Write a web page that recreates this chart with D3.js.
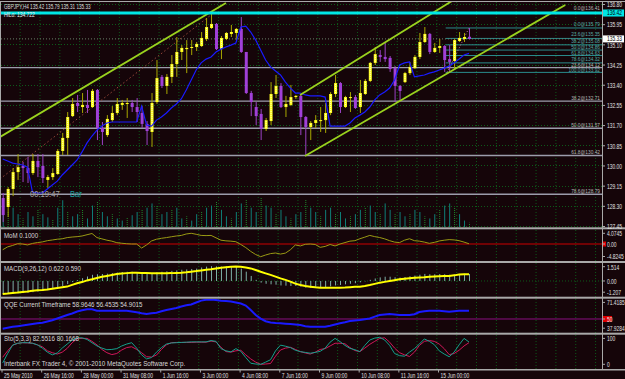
<!DOCTYPE html>
<html><head><meta charset="utf-8">
<script src="https://cdn.jsdelivr.net/npm/d3@7"></script>
<style>body{margin:0;background:#150509;overflow:hidden}svg text{font-family:"Liberation Sans",Arial,sans-serif;}</style>
</head><body>
<script>
// ---------------- DATA ----------------
const symbolTitle = "GBPJPY,H4 135.42 135.79 135.31 135.33";
const hiloTitle = "HiLo: 134.722";
const open  = [128.63,128.25,129.01,129.72,129.98,129.89,129.68,130.19,129.98,129.39,129.51,129.64,130.61,131.16,132.08,132.63,132.46,132.55,132.46,133.18,131.58,131.28,131.91,132.21,132.55,132.59,132.63,132.46,132.21,131.75,131.41,132.67,133.73,133.35,133.73,134.27,134.78,134.90,134.95,134.99,135.03,135.33,135.79,135.96,134.90,135.33,135.54,135.58,135.75,134.78,133.05,132.46,132.17,131.54,131.87,133.01,133.35,132.46,132.55,132.88,132.93,132.04,131.62,131.79,131.87,131.91,132.21,133.01,133.47,132.46,132.84,132.88,132.46,133.01,133.56,134.32,134.65,134.57,134.53,134.10,133.35,133.51,133.89,134.10,134.57,135.20,135.54,134.78,134.95,135.03,134.48,134.40,135.24,135.33,135.42];
const high  = [128.84,129.09,129.89,130.48,130.15,130.36,130.48,130.48,130.48,129.60,129.89,130.69,131.37,132.25,132.84,132.97,133.05,133.18,133.22,133.22,131.83,132.12,132.50,132.84,132.76,132.84,132.76,132.84,132.50,131.87,133.05,134.44,133.81,133.85,134.65,135.41,135.07,135.28,135.28,135.20,135.62,136.21,136.41,136.00,135.45,135.62,135.92,135.79,136.25,134.78,133.14,132.67,132.38,132.00,133.51,133.81,133.47,132.93,133.39,132.97,133.01,132.08,131.87,132.12,132.46,132.63,133.09,133.81,133.51,132.93,133.09,132.97,133.60,133.64,134.36,134.99,134.86,135.16,134.61,134.19,133.39,133.94,134.36,134.65,135.58,135.83,135.58,135.16,135.33,135.07,135.07,135.33,135.62,135.58,135.79];
const low   = [127.62,127.83,128.71,129.39,129.30,129.26,129.60,129.51,129.26,129.05,129.39,129.60,130.44,130.44,132.04,132.25,132.21,132.21,132.42,131.07,130.86,131.20,131.83,132.12,132.34,132.00,132.25,131.83,131.58,130.86,130.78,132.59,133.26,133.01,133.47,133.73,134.44,133.89,134.65,134.82,134.99,135.24,135.75,134.86,134.48,135.28,135.41,135.28,134.74,133.01,132.08,131.70,131.07,131.45,131.70,132.84,132.42,132.04,132.50,132.80,131.28,130.42,131.07,131.58,131.41,131.37,132.12,132.88,132.21,132.42,132.25,132.38,132.21,132.97,133.51,134.23,134.36,134.36,133.94,132.67,132.67,133.47,133.81,134.06,134.48,135.16,134.69,134.74,134.74,133.94,133.92,134.02,135.20,135.20,135.31];
const close = [127.91,129.01,129.72,129.93,129.89,129.68,130.19,129.93,129.47,129.51,129.68,130.61,131.16,132.04,132.59,132.50,132.55,132.42,133.14,131.58,131.41,131.96,132.21,132.59,132.63,132.63,132.46,132.25,131.75,131.45,132.63,133.68,133.35,133.73,134.27,134.78,134.95,134.95,134.99,135.12,135.37,135.83,135.96,134.90,135.37,135.58,135.62,135.75,134.78,133.05,132.67,132.08,131.54,131.91,133.01,133.35,132.46,132.59,132.88,132.93,132.04,131.62,131.79,131.91,131.91,132.21,133.01,133.47,132.46,132.88,132.88,132.42,133.05,133.56,134.32,134.69,134.57,134.48,134.06,133.35,133.14,133.89,134.15,134.57,135.20,135.54,134.78,134.95,135.03,134.44,134.36,135.28,135.37,135.41,135.33];
const hilo  = [130.27,130.19,130.10,130.06,130.02,129.93,128.88,128.84,128.84,129.01,129.18,129.34,129.60,129.81,130.02,130.23,130.57,130.95,131.24,131.49,131.66,131.79,131.83,131.83,131.83,131.83,131.83,131.83,132.50,131.70,131.66,131.91,132.04,132.21,132.42,132.59,132.80,133.18,133.60,134.02,134.32,134.48,134.57,134.78,134.90,134.99,135.07,135.16,135.83,135.87,135.62,135.28,134.86,134.44,134.15,133.98,133.81,133.51,133.26,133.05,133.05,132.97,132.93,132.93,132.93,132.88,131.66,131.66,131.66,131.66,131.79,132.00,132.12,132.25,132.46,132.76,132.97,133.09,133.26,133.60,134.23,134.32,134.36,133.73,133.77,133.81,133.89,133.94,134.02,134.10,134.19,134.32,134.48,134.65,134.72];
const volume = [22,15,18,12,8,14,10,16,12,9,7,18,25,14,10,12,16,8,20,24,14,10,12,8,6,9,11,14,16,18,22,20,12,14,16,18,8,10,6,12,14,18,20,24,16,10,8,14,22,26,18,14,28,20,18,12,16,10,8,12,14,26,18,14,10,16,18,12,14,8,10,12,16,18,20,14,12,22,16,12,14,10,12,16,14,10,8,12,16,20,22,18,12,6,4];
const mom = [-2.18,-1.09,-0.55,0.11,0,-0.36,0.22,0.55,0.8,1.27,1.53,1.82,2.0,2.44,2.65,2.8,3.05,3.53,4.0,2.44,1.96,1.45,1.09,0.51,0.29,0.11,0,0,-1.53,-0.36,1.16,1.82,2.18,2.44,2.76,3.05,3.27,3.82,4.07,3.7,3.27,3.2,3.27,2.36,1.45,1.2,1.09,0.87,-0.18,-1.35,-2.8,-4.0,-4.82,-4.18,-3.64,-3.42,-3.82,-3.45,-2.18,-0.36,-0.73,-0.11,0,-0.18,-1.27,-0.91,-0.18,-0.73,0,0.55,1.09,1.27,2.0,2.62,3.27,2.8,2.47,1.96,1.27,0.73,0.55,1.45,2.0,1.27,1.09,0.73,0.25,0.62,1.16,1.45,1.67,1.56,1.27,0.73,0.10];
const macdMain = [-1.16,-1.15,-1.12,-1.1,-1.08,-1.05,-1.0,-0.95,-0.9,-0.82,-0.72,-0.6,-0.45,-0.28,-0.1,0.08,0.25,0.4,0.55,0.6,0.62,0.65,0.7,0.75,0.8,0.82,0.82,0.8,0.72,0.65,0.68,0.78,0.82,0.86,0.9,0.95,1.0,1.03,1.07,1.1,1.2,1.28,1.32,1.3,1.28,1.3,1.3,1.27,1.1,0.83,0.45,0.1,-0.15,-0.25,-0.3,-0.33,-0.4,-0.42,-0.45,-0.45,-0.5,-0.6,-0.62,-0.6,-0.58,-0.55,-0.48,-0.4,-0.36,-0.3,-0.25,-0.2,-0.12,-0.03,0.1,0.22,0.32,0.38,0.38,0.33,0.3,0.35,0.42,0.48,0.56,0.63,0.6,0.6,0.62,0.6,0.56,0.6,0.63,0.64,0.622];
const macdSignal = [-1.16,-1.12,-1.07,-1.03,-0.98,-0.94,-0.88,-0.83,-0.8,-0.76,-0.7,-0.63,-0.56,-0.5,-0.35,-0.2,-0.1,0.05,0.15,0.27,0.37,0.45,0.53,0.62,0.67,0.7,0.73,0.73,0.71,0.7,0.69,0.69,0.69,0.69,0.7,0.72,0.74,0.78,0.83,0.88,0.94,1.0,1.05,1.12,1.17,1.22,1.26,1.28,1.27,1.2,1.12,0.98,0.82,0.68,0.54,0.39,0.23,0.1,-0.06,-0.24,-0.36,-0.45,-0.51,-0.56,-0.6,-0.6,-0.6,-0.6,-0.6,-0.58,-0.55,-0.52,-0.51,-0.44,-0.36,-0.26,-0.15,-0.08,0,0.07,0.15,0.2,0.24,0.28,0.31,0.34,0.38,0.4,0.42,0.44,0.45,0.5,0.57,0.59,0.59];
const qqe = [39.5,40.5,41.6,42.3,43.0,43.8,44.6,45.5,46.0,47.3,48.7,50.5,52.4,54.3,55.9,58.1,59.4,60.4,60.4,58.9,58.9,58.9,58.9,58.9,58.9,58.9,58.1,57.2,56.2,55.4,56.1,56.8,58.3,59.7,60.8,61.8,63.4,64.7,65.6,67.7,69.8,70.6,71.0,70.4,69.7,69.4,68.8,67.7,66.7,64.5,59.7,54.3,50.5,47.6,46.2,45.7,45.4,45.0,44.6,44.1,43.5,42.2,41.7,41.7,41.7,41.7,42.8,44.1,45.4,46.5,47.8,48.3,48.9,49.8,50.6,52.5,54.3,54.8,55.4,54.8,54.3,54.3,54.3,55.2,57.5,58.4,58.8,58.9,58.9,58.4,57.8,58.4,58.9,58.9,58.96];
const stoMain = [5,40,71,78,80,80,78,72,60,45,35,42,60,75,90,98,98,92,80,68,60,54,55,58,68,75,80,60,35,20,25,45,62,75,79,80,81,82,83,83,83,83,88,85,58,50,46,58,48,25,4,1,0,8,17,50,71,67,62,52,47,44,41,44,48,60,82,96,84,70,59,54,47,70,90,97,100,90,70,40,32,30,45,58,75,94,85,73,50,38,28,45,72,96,82.55];
const stoSignal = [26,50,71,77,80,79,78,72,65,50,43,38,45,59,80,95,96,96,85,72,55,43,36,40,53,62,65,55,43,28,27,34,55,72,80,81,81,81,81,82,82,82,86,83,63,47,45,50,52,35,20,8,0,1,3,30,53,60,63,55,47,42,38,45,55,58,68,78,78,76,62,51,47,60,74,85,96,98,82,60,43,35,29,45,70,85,88,85,75,58,36,40,52,68,80.17];
const priceTicks = [136.80,135.95,135.10,134.25,133.40,132.55,131.70,130.85,130.00,129.15,128.30,127.45];
const timeTickBars = [0,8,16,24,32,40,48,56,64,72,80,88];
const timeLabels = ["25 May 2010","26 May 16:00","28 May 00:00","31 May 08:00","1 Jun 16:00","3 Jun 00:00","4 Jun 08:00","7 Jun 16:00","9 Jun 00:00","10 Jun 08:00","11 Jun 16:00","15 Jun 00:00"];
const bigFibLevels = ["0.0","23.6","38.2","50.0","61.8","78.6"];
const bigFibPrices = [136.41,134.12,132.71,131.57,130.42,128.79];
const smallFibLevels = ["0.0","23.6","38.2","50.0","61.8","78.6","100.0"];
const smallFibPrices = [135.79,135.35,135.08,134.86,134.63,134.32,133.92];
const smallFibStartBar = 89.3;
const cyanLevel = 136.42;
// trend lines: [bar1, price1, bar2, price2]
const greenLines = [[-0.54,131.20,45.0,136.84],[59.94,132.97,90.9,136.97],[60.94,130.40,113.4,136.76]];
const dottedLine = [-0.54,129.43,42.0,136.34];
const fibDiag = [89.6,133.92,94,135.79];
const momLabels = ["4.0745","0.00","-4.8245"], momLabelVals=[4.0745,0,-4.8245];
const macdLabels = ["1.514","0.00","-1.207"], macdLabelVals=[1.514,0,-1.207];
const qqeLabels = ["71.4185","50","37.9284"], qqeLabelVals=[71.4185,50,37.9284];
const stoLabels = ["100","0"], stoLabelVals=[100,0];

// ---------------- CHART ----------------
const W=625,H=379,AX=602;
const BG='#150509';
const svg=d3.select('body').append('svg').attr('width',W).attr('height',H);
svg.append('rect').attr('width',W).attr('height',H).attr('fill',BG);
const defs=svg.append('defs');
function clip(id,y0,y1){defs.append('clipPath').attr('id',id).append('rect').attr('x',1).attr('y',y0).attr('width',AX-1).attr('height',y1-y0);}
const WIN={m:[2,227.3],c1:[229.5,261],c2:[263,296.7],c3:[298.7,332.7],c4:[334.7,369]};
clip('cm',...WIN.m);clip('c1',...WIN.c1);clip('c2',...WIN.c2);clip('c3',...WIN.c3);clip('c4',...WIN.c4);

const x=d3.scaleLinear().domain([0,94]).range([2.7,469]);
const y=d3.scaleLinear().domain([127.45,136.80]).range([226,4]);
const yMom=d3.scaleLinear().domain([-4.8245,4.0745]).range([256.7,233.3]);
const yMacd=d3.scaleLinear().domain([-1.207,1.514]).range([294.5,264]);
const yQqe=d3.scaleLinear().domain([37.9284,71.4185]).range([330.2,299.1]);
const ySto=d3.scaleLinear().domain([0,100]).range([364.3,337.3]);
const N=close.length, idx=d3.range(N);

function txt(g,px,py,s,fill,anchor,size,sx){
  return g.append('text').attr('transform',`translate(${px},${py}) scale(${sx||0.62},1)`)
   .attr('text-anchor',anchor||'start').attr('font-size',size||8).attr('fill',fill).text(s);
}
const gridC='#0d5a1a';
// vertical grid (every 4 bars)
const gv=svg.append('g');
for(let b=-0.24-4; x(b)<AX-2; b+=4){ if(x(b)<0) continue;
  gv.append('line').attr('x1',x(b)-1.2).attr('x2',x(b)-1.2).attr('y1',2).attr('y2',369)
    .attr('stroke',gridC).attr('stroke-dasharray','1,2');}
// horizontal grid main
svg.append('g').selectAll('line').data(priceTicks).join('line')
  .attr('x1',1).attr('x2',AX).attr('y1',d=>Math.round(y(d))+0.5).attr('y2',d=>Math.round(y(d))+0.5)
  .attr('stroke',gridC).attr('stroke-dasharray','1,2');

// ---- main window
const gm=svg.append('g').attr('clip-path','url(#cm)');
const vS=d3.scaleLinear().domain([0,d3.max(volume)]).range([227,197]);
gm.selectAll('.v').data(idx).join('line').attr('x1',i=>x(i)+0.5).attr('x2',i=>x(i)+0.5)
  .attr('y1',227).attr('y2',i=>vS(volume[i])).attr('stroke',(i)=>i%3==1?'#1e8a2c':'#0f7f78').attr('stroke-width',1)
  .attr('stroke-dasharray',i=>i%3==1?'1,1':null);
// big fib lines
gm.selectAll('.bf').data(bigFibPrices).join('line').attr('x1',1).attr('x2',AX)
  .attr('y1',d=>y(d)).attr('y2',d=>y(d)).attr('stroke','#9c9cab').attr('stroke-width',1.4);
// small fib lines
gm.selectAll('.sf').data(smallFibPrices).join('line').attr('x1',x(smallFibStartBar)).attr('x2',AX)
  .attr('y1',d=>y(d)).attr('y2',d=>y(d)).attr('stroke','#2a8c8c').attr('stroke-width',1);
// current price dotted line
gm.append('line').attr('x1',1).attr('x2',AX).attr('y1',y(close[N-1])).attr('y2',y(close[N-1]))
  .attr('stroke','#6a806a').attr('stroke-dasharray','1,2');
// dotted diagonal
gm.append('line').attr('x1',x(dottedLine[0])).attr('y1',y(dottedLine[1])).attr('x2',x(dottedLine[2])).attr('y2',y(dottedLine[3]))
  .attr('stroke','#9a4a3c').attr('stroke-dasharray','1.5,2.5');
gm.append('line').attr('x1',x(fibDiag[0])).attr('y1',y(fibDiag[1])).attr('x2',x(fibDiag[2])).attr('y2',y(fibDiag[3]))
  .attr('stroke','#c070a0').attr('stroke-dasharray','1,2');
// candles
const up=i=>close[i]>=open[i];
gm.selectAll('.w').data(idx).join('line').attr('x1',i=>x(i)+0.5).attr('x2',i=>x(i)+0.5)
  .attr('y1',i=>y(high[i])).attr('y2',i=>y(low[i])).attr('stroke',i=>up(i)?'#a8a800':'#9a44c4');
gm.selectAll('.b').data(idx).join('rect').attr('x',i=>x(i)-1).attr('width',3)
  .attr('y',i=>y(Math.max(open[i],close[i]))).attr('height',i=>Math.max(1,Math.abs(y(open[i])-y(close[i]))))
  .attr('fill',i=>up(i)?'#ffff20':'#a040d8');
gm.selectAll('.bc').data(idx.filter(i=>up(i)&&Math.abs(y(open[i])-y(close[i]))>3)).join('line')
  .attr('x1',i=>x(i)+0.5).attr('x2',i=>x(i)+0.5).attr('y1',i=>y(close[i])+1).attr('y2',i=>y(open[i])-1)
  .attr('stroke','#ffffd0').attr('stroke-dasharray','1,1');
// hilo line
gm.append('path').datum(idx).attr('d',d3.line().x(i=>x(i)).y(i=>y(hilo[i])))
  .attr('fill','none').attr('stroke','#1a1aff').attr('stroke-width',1.2);
// green channel lines
gm.selectAll('.gl').data(greenLines).join('line').attr('x1',d=>x(d[0])).attr('y1',d=>y(d[1]))
  .attr('x2',d=>x(d[2])).attr('y2',d=>y(d[3])).attr('stroke','#9ad21e').attr('stroke-width',1.8);
// cyan level
gm.append('line').attr('x1',1).attr('x2',AX).attr('y1',y(cyanLevel)).attr('y2',y(cyanLevel))
  .attr('stroke','#00e6e6').attr('stroke-width',3);
// fib labels (small font so the tightly packed levels stay readable)
const bigOff=[-3,-0.2,-1.5,-1.5,-1.5,-1.5];
const smallOff=[-2.2,-2.0,-1.6,-1.2,-1.0,-2.2,0];
bigFibPrices.forEach((p,k)=>txt(svg,AX-2,y(p)+bigOff[k],bigFibLevels[k]+'@'+p.toFixed(2),'#b4b4b4','end',6,0.8));
smallFibPrices.forEach((p,k)=>txt(svg,AX-2,y(p)+smallOff[k],smallFibLevels[k]+'@'+p.toFixed(2),'#5aa6a6','end',6,0.8));
// texts
txt(svg,4,8.5,symbolTitle,'#dcdcdc','start',8,0.58);
txt(svg,4,16.5,hiloTitle,'#f0f0f0','start',8,0.62);
txt(svg,30,196.5,'00:19:47','#a0a0a0','start',9,0.85);
txt(svg,70,196.5,'Bar','#19a0a0','start',9,0.85);

// ---- MoM
const g1=svg.append('g').attr('clip-path','url(#c1)');
g1.append('line').attr('x1',1).attr('x2',AX).attr('y1',yMom(0)).attr('y2',yMom(0)).attr('stroke','#cc0000');
g1.append('path').datum(idx).attr('d',d3.line().x(i=>x(i)).y(i=>yMom(mom[i])))
  .attr('fill','none').attr('stroke','#9a9a14').attr('stroke-width',1);
const SUBSX=0.77;
txt(svg,4,238,'MoM  0.1000','#d8d8d8','start',8,SUBSX);
// ---- MACD
const g2=svg.append('g').attr('clip-path','url(#c2)');
g2.append('line').attr('x1',1).attr('x2',AX).attr('y1',yMacd(0)).attr('y2',yMacd(0)).attr('stroke',gridC).attr('stroke-dasharray','1,2');
g2.selectAll('.h').data(idx).join('line').attr('x1',i=>x(i)+0.5).attr('x2',i=>x(i)+0.5)
  .attr('y1',yMacd(0)).attr('y2',i=>yMacd(macdMain[i])).attr('stroke','#7fb0a8');
g2.append('path').datum(idx).attr('d',d3.line().x(i=>x(i)).y(i=>yMacd(macdSignal[i])))
  .attr('fill','none').attr('stroke','#ffff00').attr('stroke-width',2);
txt(svg,4,271,'MACD(9,26,12) 0.622 0.590','#d8d8d8','start',8,SUBSX);
// ---- QQE
const g3=svg.append('g').attr('clip-path','url(#c3)');
g3.append('line').attr('x1',1).attr('x2',AX).attr('y1',yQqe(50)).attr('y2',yQqe(50)).attr('stroke','#8a1080');
g3.append('path').datum(idx).attr('d',d3.line().x(i=>x(i)).y(i=>yQqe(qqe[i])))
  .attr('fill','none').attr('stroke','#1a1aff').attr('stroke-width',2);
txt(svg,4,306.5,'QQE Current Timeframe 58.9646 56.4535 54.9015','#d8d8d8','start',8,SUBSX);
// ---- Stoch
const g4=svg.append('g').attr('clip-path','url(#c4)');
g4.append('path').datum(idx).attr('d',d3.line().x(i=>x(i)).y(i=>ySto(stoSignal[i])))
  .attr('fill','none').attr('stroke','#d0185a').attr('stroke-width',1);
g4.append('path').datum(idx).attr('d',d3.line().x(i=>x(i)).y(i=>ySto(stoMain[i])))
  .attr('fill','none').attr('stroke','#14a08c').attr('stroke-width',1);
txt(svg,4,341,'Sto(5,3,3) 82.5516 80.1668','#d8d8d8','start',8,SUBSX);
txt(svg,4,366,'Interbank FX Trader 4, \u00a9 2001-2010 MetaQuotes Software Corp.','#d8d8d8','start',8,0.79);

// ---- frame & separators
const sepC='#a9a9a9';
[[227.3,2],[261,2],[296.7,2],[332.7,2],[369,1.5]].forEach(s=>svg.append('rect').attr('x',0).attr('y',s[0]).attr('width',W).attr('height',s[1]).attr('fill',sepC));
svg.append('rect').attr('x',0).attr('y',1).attr('width',W).attr('height',1).attr('fill',sepC);
svg.append('rect').attr('x',0).attr('y',1).attr('width',1).attr('height',369).attr('fill',sepC);
svg.append('rect').attr('x',AX).attr('y',1).attr('width',1).attr('height',369).attr('fill',sepC);

// ---- price axis
const ax=svg.append('g').attr('transform',`translate(${AX},0)`)
  .call(d3.axisRight(y).tickValues(priceTicks).tickSize(3).tickFormat(d=>d.toFixed(2)));
ax.select('.domain').remove();
ax.selectAll('line').attr('stroke',sepC);
ax.selectAll('text').attr('x',null).attr('dy',null).attr('fill','#e0e0e0').attr('font-size',7.4)
  .attr('transform','translate(5,2.8) scale(0.67,1)');
// highlight boxes
function box(val,bg,fg,t){const yy=y(val);svg.append('rect').attr('x',AX+1).attr('y',yy-3.5).attr('width',21).attr('height',7).attr('fill',bg);
  txt(svg,AX+5,yy+2.4,t,fg,'start',7,0.7);}
box(cyanLevel,'#00e6e6','#000',cyanLevel.toFixed(2));
box(close[N-1],'#ffffff','#000',close[N-1].toFixed(2));
// sub axes labels (kept inside their window like the terminal does)
function subLabels(sc,win,vals,labs){vals.forEach((v,k)=>{const yy=Math.max(win[0]+3.7,Math.min(win[1]-4.5,sc(v)));
  svg.append('line').attr('x1',AX).attr('x2',AX+3).attr('y1',yy).attr('y2',yy).attr('stroke',sepC);
  txt(svg,AX+5,yy+2.8,labs[k],'#e0e0e0','start',7.4,0.67);});}
svg.append('rect').attr('x',AX+1).attr('y',yMom(0)-2.5).attr('width',3).attr('height',5).attr('fill','#e00000');
subLabels(yMom,WIN.c1,momLabelVals,momLabels);
subLabels(yMacd,WIN.c2,macdLabelVals,macdLabels);
svg.append('rect').attr('x',AX+1).attr('y',yQqe(50)-3).attr('width',9).attr('height',6).attr('fill','#e00000');
subLabels(yQqe,WIN.c3,qqeLabelVals,qqeLabels);
subLabels(ySto,WIN.c4,stoLabelVals,stoLabels);

// ---- time axis
const tx=svg.append('g').attr('transform','translate(-1.2,369.5)')
  .call(d3.axisBottom(x).tickValues(timeTickBars).tickSize(3).tickFormat((d,k)=>timeLabels[k]));
tx.select('.domain').remove();
tx.selectAll('line').attr('stroke',sepC);
tx.selectAll('text').attr('y',null).attr('dy',null).attr('text-anchor','start').attr('fill','#e0e0e0')
  .attr('font-size',8).attr('transform','translate(2,8.5) scale(0.62,1)');
</script>
</body></html>
